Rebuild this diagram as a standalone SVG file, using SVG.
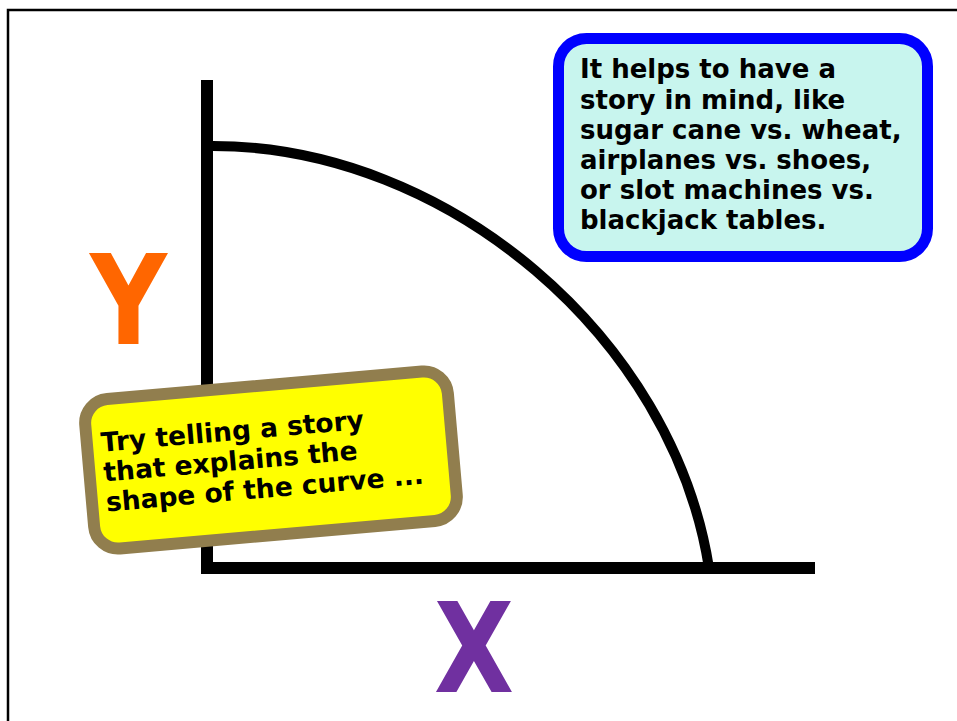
<svg xmlns="http://www.w3.org/2000/svg" width="957" height="721" viewBox="0 0 957 721">
<style>
.t{font-family:"DejaVu Sans",Verdana,sans-serif;font-weight:bold;font-size:26px;fill:#000}
.t2{font-family:"DejaVu Sans",Verdana,sans-serif;font-weight:bold;font-size:26.5px;fill:#000}
.big{font-family:"DejaVu Sans",Verdana,sans-serif;font-weight:bold;font-size:125px}
.axis{stroke:#000;stroke-width:12;fill:none}
</style>
<rect x="0" y="0" width="957" height="721" fill="#fff"/>
<rect x="8" y="10" width="1000" height="800" fill="none" stroke="#000" stroke-width="2.5"/>
<g id="connectors">
<line class="axis" x1="207" y1="80" x2="207" y2="574"/>
<line class="axis" x1="201" y1="568" x2="815" y2="568"/>
<path d="M213,146 C448,146 673,338 709,568" fill="none" stroke="#000" stroke-width="10"/>
</g>
<g id="label-y">
<text class="big" fill="#FF6600" text-anchor="middle" transform="translate(128.5,344) scale(0.85,1)">Y</text>
</g>
<g id="label-x">
<text class="big" fill="#7030A0" text-anchor="middle" transform="translate(474,692) scale(0.83,1)">X</text>
</g>
<g id="note-blue">
<rect x="558.5" y="38.5" width="369" height="218" rx="28" fill="#C8F5EE" stroke="#0000FF" stroke-width="11"/>
<text class="t" x="580" y="78.3">It helps to have a</text>
<text class="t" x="580" y="108.5">story in mind, like</text>
<text class="t" x="580" y="138.7">sugar cane vs. wheat,</text>
<text class="t" x="580" y="168.9">airplanes vs. shoes,</text>
<text class="t" x="580" y="199.1">or slot machines vs.</text>
<text class="t" x="580" y="229.3">blackjack tables.</text>
</g>
<g id="note-yellow" transform="translate(271,460) rotate(-5)">
<rect x="-182" y="-75" width="364" height="150" rx="24" fill="#FFFF00" stroke="#917E4E" stroke-width="12"/>
<text class="t2" x="-168" y="-23">Try telling a story</text>
<text class="t2" x="-168" y="7">that explains the</text>
<text class="t2" x="-168" y="37">shape of the curve ...</text>
</g>
</svg>
